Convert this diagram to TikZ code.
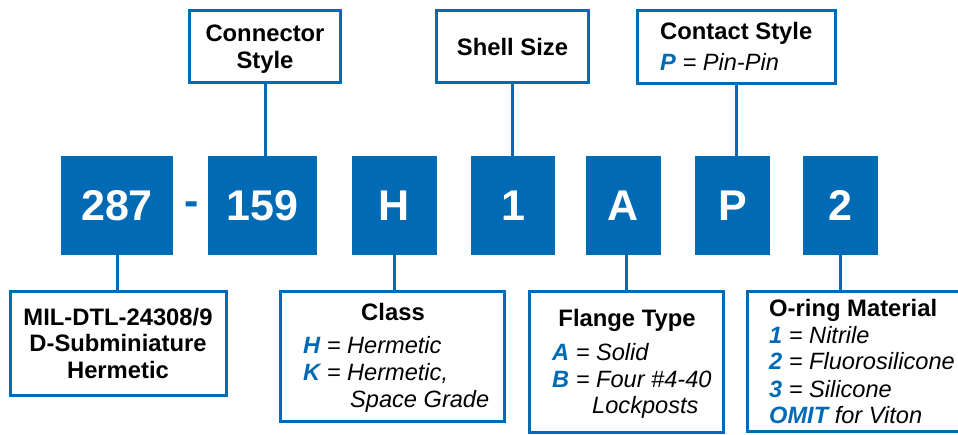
\documentclass[tikz,border=0pt]{standalone}
\usepackage{fontspec}
\setmainfont{Liberation Sans}
\definecolor{dblue}{RGB}{0,106,180}
\newcommand{\kk}[1]{\textcolor{dblue}{\bfseries #1}}
\begin{document}
\begin{tikzpicture}[x=1pt,y=-1pt,
  digit/.style={fill=dblue, draw=none, text=white, font=\fontsize{43}{43}\selectfont\bfseries, inner sep=0, minimum height=99},
  obox/.style={draw=dblue, line width=3pt, fill=white, inner sep=0},
  link/.style={draw=dblue, line width=3pt},
  ttl/.style={font=\fontsize{23.8}{27}\selectfont\bfseries, inner sep=0, anchor=base},
  ttlw/.style={font=\fontsize{23.8}{27}\selectfont\bfseries, inner sep=0, anchor=base west},
  itm/.style={font=\fontsize{23.6}{27}\selectfont\itshape, inner sep=0, anchor=base west}]
\useasboundingbox (0,0) rectangle (958,435);
\clip (0,0) rectangle (958,435);
% code boxes
\node[digit, minimum width=112] (d287) at (117,205.5) {287};
\node[digit, minimum width=109] (d159) at (262.5,205.5) {159};
\node[digit, minimum width=85] (dH) at (394.5,205.5) {H};
\node[digit, minimum width=84] (d1) at (513,205.5) {1};
\node[digit, minimum width=75] (dA) at (623.5,205.5) {A};
\node[digit, minimum width=75] (dP) at (732.5,205.5) {P};
\node[digit, minimum width=75] (d2) at (840.5,205.5) {2};
\node[font=\fontsize{43}{43}\selectfont\bfseries, text=dblue, inner sep=0] (dash) at (192,209) {-};
% top boxes
\node[obox, minimum width=151, minimum height=72] (cstyle) at (265,46.5) {};
\node[ttl] (cstyleA) at (265,42) {Connector};
\node[ttl] (cstyleB) at (265,69) {Style};
\node[obox, minimum width=152, minimum height=72] (shell) at (512.5,46.5) {};
\node[ttl] (shellT) at (512.5,56) {Shell Size};
\node[obox, minimum width=198, minimum height=73] (contact) at (736.5,47) {};
\node[ttlw] (contactT) at (660,40) {Contact Style};
\node[itm] (contactP) at (660,71) {\kk{P} = Pin-Pin};
% bottom boxes
\node[obox, minimum width=216, minimum height=104] (mil) at (118.5,343.5) {};
\node[ttl] (milA) at (118,326) {MIL-DTL-24308/9};
\node[ttl] (milB) at (118,352) {D-Subminiature};
\node[ttl] (milC) at (118,378) {Hermetic};
\node[obox, minimum width=224, minimum height=130] (class) at (392.5,356.5) {};
\node[ttl] (classT) at (393,321) {Class};
\node[itm] (classH) at (303,353) {\kk{H} = Hermetic};
\node[itm] (classK) at (303,380) {\kk{K} = Hermetic,};
\node[itm] (classS) at (350,407) {Space Grade};
\node[obox, minimum width=194, minimum height=141] (flange) at (626.5,362) {};
\node[ttl] (flangeT) at (627,327) {Flange Type};
\node[itm] (flangeA) at (552,360) {\kk{A} = Solid};
\node[itm] (flangeB) at (552,387) {\kk{B} = Four \#4-40};
\node[itm] (flangeL) at (592,413) {Lockposts};
\node[obox, minimum width=226, minimum height=140] (oring) at (860.5,361.5) {};
\node[ttlw] (oringT) at (769,317) {O-ring Material};
\node[itm] (oring1) at (769,344) {\kk{1} = Nitrile};
\node[itm] (oring2) at (769,370) {\kk{2} = Fluorosilicone};
\node[itm] (oring3) at (769,397) {\kk{3} = Silicone};
\node[itm] (oringO) at (769,423) {\kk{OMIT} for Viton};
% connectors
\draw[link] (cstyle.south) -- (cstyle.south |- d159.north);
\draw[link] (shell.south) -- (shell.south |- d1.north);
\draw[link] (contact.south) -- (contact.south |- dP.north);
\draw[link] (d287.south) -- (d287.south |- mil.north);
\draw[link] (dH.south) -- (dH.south |- class.north);
\draw[link] (flange.north |- dA.south) -- (flange.north);
\draw[link] (d2.south) -- (d2.south |- oring.north);
\end{tikzpicture}
\end{document}
